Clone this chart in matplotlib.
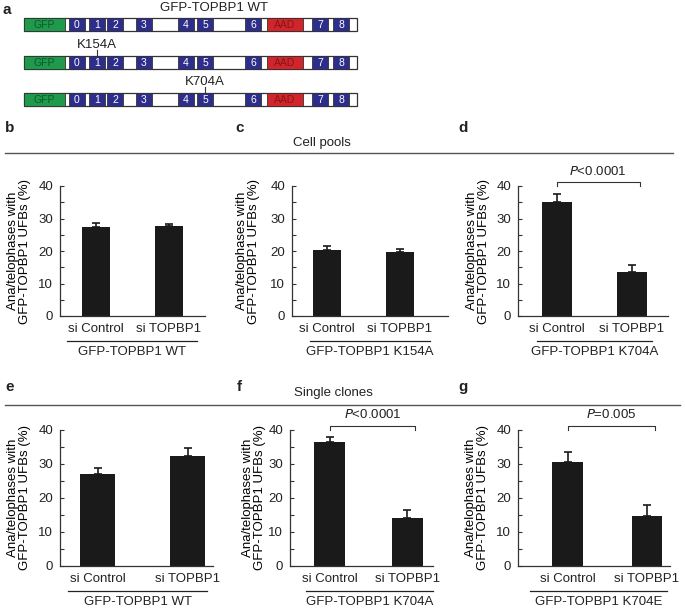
import numpy as np
import matplotlib
matplotlib.use("Agg")
import matplotlib.pyplot as plt
from matplotlib.patches import Rectangle
from matplotlib.ticker import MultipleLocator

plt.rcParams['font.family'] = ['Liberation Sans', 'DejaVu Sans']
plt.rcParams['font.size'] = 9.5
plt.rcParams['text.color'] = '#222222'

# ---- data -------------------------------------------------------------
conditions = ["si Control", "si TOPBP1"]
groups = ["GFP-TOPBP1 WT", "GFP-TOPBP1 K154A", "GFP-TOPBP1 K704A",
          "GFP-TOPBP1 WT", "GFP-TOPBP1 K704A", "GFP-TOPBP1 K704E"]
letters = ["b", "c", "d", "e", "f", "g"]
means_b = [27.4, 27.6]
means_c = [20.4, 19.7]
means_d = [35.0, 13.4]
means_e = [27.0, 32.3]
means_f = [36.4, 14.1]
means_g = [30.7, 14.6]
errs_b = [1.2, 0.7]
errs_c = [1.0, 1.0]
errs_d = [2.5, 2.3]
errs_e = [1.7, 2.5]
errs_f = [1.5, 2.5]
errs_g = [2.9, 3.4]
pvalues = [None, None, "<0.0001", None, "<0.0001", "=0.005"]

# domain schematic (start, end in schematic units, label, kind)
domains = [
    (24, 65, "GFP", "gfp"),
    (69, 85, "0", "brct"),
    (89, 105, "1", "brct"),
    (107, 123, "2", "brct"),
    (136, 152, "3", "brct"),
    (178, 194, "4", "brct"),
    (197, 213, "5", "brct"),
    (245, 261, "6", "brct"),
    (267, 303, "AAD", "aad"),
    (312, 328, "7", "brct"),
    (333, 349, "8", "brct"),
]
construct_end = 357
mutations = [None, ("K154A", 97), ("K704A", 205)]

# ---- layout -----------------------------------------------------------
W, H = 685, 608
fig = plt.figure(figsize=(W / 100, H / 100), dpi=100)

# overlay in pixel units for schematic, separators and letters
ov = fig.add_axes([0, 0, 1, 1], zorder=0)
ov.set_xlim(0, W)
ov.set_ylim(H, 0)
ov.axis("off")

fill = {"gfp": "#1f9a4c", "brct": "#2d2e8c", "aad": "#d0262b"}
txtc = {"gfp": "#0d5a2a", "brct": "white", "aad": "#8a1418"}
row_y = [18, 56, 93]
row_h = 13
for r, y0 in enumerate(row_y):
    ov.add_patch(Rectangle((24, y0), construct_end - 24, row_h, facecolor="white",
                           edgecolor="#333333", lw=0.9))
    for s, e, lab, kind in domains:
        ov.add_patch(Rectangle((s, y0), e - s, row_h, facecolor=fill[kind],
                               edgecolor="#333333", lw=0.6))
        ov.text((s + e) / 2, y0 + row_h / 2 + 0.5, lab, color=txtc[kind],
                fontsize=7.5, ha="center", va="center")
    if mutations[r] is not None:
        name, xm = mutations[r]
        ov.plot([xm, xm], [y0 - 6, y0], color="#333333", lw=0.8)
        ov.text(xm, y0 - 11, name, ha="center", va="center", fontsize=9.5)
ov.text(214, 8, "GFP-TOPBP1 WT", ha="center", va="center", fontsize=9.5)
ov.text(3, 10, "a", ha="left", va="center", fontsize=11, fontweight="bold")

# section separators and headings
ov.plot([5, 673], [153, 153], color="#555555", lw=1.0)
ov.plot([5, 680], [405, 405], color="#555555", lw=1.0)
ov.text(322, 143, "Cell pools", ha="center", va="center", fontsize=9.5)
ov.text(333, 393, "Single clones", ha="center", va="center", fontsize=9.5)
letter_pos = [(5, 128), (235, 128), (458, 128), (5, 387), (237, 387), (458, 387)]

# panel rectangles in pixels: left, right, top, bottom
rects = [(60, 205, 186, 316), (292, 448, 186, 316), (518, 668, 186, 316),
         (60, 213, 430, 566), (290, 433, 430, 566), (518, 670, 430, 566)]
xlims = [(-0.5, 1.5), (-0.48, 1.66), (-0.52, 1.48),
         (-0.42, 1.28), (-0.51, 1.33), (-0.63, 1.29)]
# right edge of the two-line y label, in pixels
ylabel_x = [31, 260, 490, 31, 266, 489]
underline_px = [(67, 197), (310, 430), (537, 652), (68, 207), (306, 433), (530, 667)]

all_means = [means_b, means_c, means_d, means_e, means_f, means_g]
all_errs = [errs_b, errs_c, errs_d, errs_e, errs_f, errs_g]

for i in range(6):
    l, r, t, b = rects[i]
    ax = fig.add_axes([l / W, 1 - b / H, (r - l) / W, (b - t) / H], zorder=1)
    ax.patch.set_alpha(0)
    x = np.arange(len(conditions))
    ax.bar(x, all_means[i], width=0.39, color="#1a1a1a")
    ax.errorbar(x, all_means[i], yerr=[np.zeros(2), all_errs[i]], fmt="none",
                ecolor="#1a1a1a", elinewidth=1.2, capsize=3, capthick=1.2)
    ax.set_xlim(*xlims[i])
    ax.set_ylim(0, 40)
    ax.yaxis.set_major_locator(MultipleLocator(10))
    ax.yaxis.set_minor_locator(MultipleLocator(5))
    ax.tick_params(axis="y", which="both", direction="in", length=3, width=0.8,
                   colors="#333333", labelcolor="#222222", labelsize=9.5, pad=5)
    ax.tick_params(axis="x", length=0, labelsize=9.5, pad=5, labelcolor="#222222")
    ax.set_xticks(x)
    ax.set_xticklabels(conditions)
    for sp in ["top", "right"]:
        ax.spines[sp].set_visible(False)
    for sp in ["left", "bottom"]:
        ax.spines[sp].set_color("#333333")
        ax.spines[sp].set_linewidth(0.9)
    ax.set_ylabel("Ana/telophases with\nGFP-TOPBP1 UFBs (%)", fontsize=9.5,
                  linespacing=1.05)
    ax.yaxis.set_label_coords((ylabel_x[i] - l) / (r - l), 0.5)

    # group underline and label
    ul0, ul1 = underline_px[i]
    hpx = b - t
    ax.plot([(ul0 - l) / (r - l), (ul1 - l) / (r - l)], [-25 / hpx, -25 / hpx],
            transform=ax.transAxes, color="#222222", lw=0.9, clip_on=False)
    ax.text(((ul0 + ul1) / 2 - l) / (r - l), -36 / hpx, groups[i],
            transform=ax.transAxes, ha="center", va="center", fontsize=9.5)

    # significance bracket
    if pvalues[i] is not None:
        yb = 41.3
        ax.plot([0, 0, 1.1, 1.1], [yb - 1.2, yb, yb, yb - 1.2], color="#333333",
                lw=0.8, clip_on=False)
        ax.text(0.55, yb + 1.2, r"$\it{P}$" + pvalues[i], ha="center", va="bottom",
                fontsize=9.5)

    lx, ly = letter_pos[i]
    ov.text(lx, ly, letters[i], ha="left", va="center", fontsize=11,
            fontweight="bold")

fig.savefig("out.png", dpi=100)
